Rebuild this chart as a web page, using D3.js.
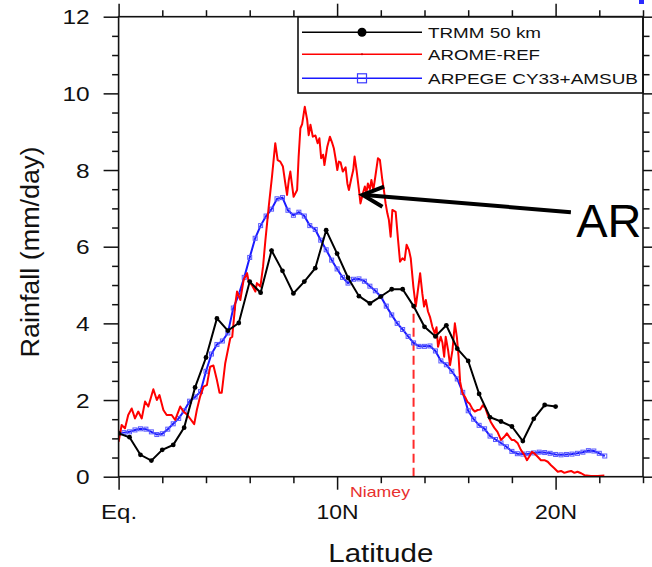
<!DOCTYPE html>
<html><head><meta charset="utf-8">
<script src="https://cdn.jsdelivr.net/npm/d3@7"></script>
<style>body{margin:0;background:#fff}svg{display:block;font-family:"Liberation Sans",Arial,Helvetica,sans-serif}</style>
</head><body><svg id="c" width="652" height="567"></svg>
<script>
// ---------- data ----------
const trmmStep = 0.5;
const trmmVal = [1.13,1.03,0.57,0.42,0.70,0.83,1.28,2.33,3.11,4.13,3.81,4.01,5.09,4.80,5.90,5.37,4.78,5.09,5.44,6.43,5.82,5.19,4.71,4.52,4.70,4.89,4.89,4.45,3.91,3.66,3.95,3.34,3.02,2.16,1.55,1.44,1.31,0.93,1.51,1.87,1.83];

const arpegeStep = 0.25;
const arpegeVal = [1.13,1.15,1.17,1.22,1.25,1.24,1.17,1.10,1.12,1.24,1.38,1.52,1.72,1.97,2.08,2.22,2.75,3.20,3.45,3.54,3.75,4.40,4.75,5.20,5.72,6.22,6.55,6.80,6.98,7.25,7.28,6.95,6.82,6.90,6.80,6.55,6.45,6.17,5.92,5.65,5.42,5.20,5.05,5.15,5.16,5.10,4.97,4.85,4.70,4.45,4.22,4.00,3.84,3.66,3.49,3.40,3.40,3.41,3.28,3.02,2.92,2.75,2.55,2.20,1.72,1.50,1.34,1.25,1.06,0.97,0.88,0.78,0.66,0.60,0.59,0.60,0.62,0.64,0.63,0.61,0.58,0.57,0.58,0.59,0.61,0.64,0.68,0.67,0.61,0.54];

const aromeLat = [0.00,0.14,0.29,0.44,0.60,0.75,0.90,1.06,1.21,1.36,1.59,1.75,1.87,2.05,2.20,2.43,2.59,2.82,2.97,3.15,3.46,3.58,3.73,3.89,4.04,4.19,4.34,4.50,4.62,4.72,4.88,5.11,5.20,5.34,5.42,5.57,5.72,5.88,5.95,6.10,6.26,6.33,6.49,6.61,6.72,6.87,7.02,7.17,7.28,7.40,7.52,7.63,7.71,7.79,7.86,7.94,8.01,8.17,8.24,8.32,8.40,8.52,8.63,8.70,8.78,8.89,9.01,9.11,9.19,9.27,9.36,9.42,9.55,9.67,9.78,9.85,9.93,10.01,10.08,10.16,10.26,10.39,10.47,10.54,10.65,10.74,10.80,10.89,11.00,11.07,11.18,11.27,11.34,11.41,11.50,11.57,11.66,11.76,11.87,11.96,12.07,12.14,12.22,12.30,12.37,12.45,12.53,12.68,12.79,12.88,12.99,13.09,13.18,13.29,13.37,13.49,13.60,13.67,13.80,13.90,13.98,14.06,14.16,14.25,14.36,14.47,14.55,14.62,14.74,14.82,14.90,14.97,15.08,15.17,15.28,15.39,15.48,15.56,15.63,15.74,15.85,15.97,16.07,16.20,16.30,16.43,16.55,16.66,16.78,16.90,17.04,17.19,17.34,17.50,17.65,17.77,17.88,17.99,18.10,18.27,18.41,18.57,18.69,18.79,18.92,19.02,19.18,19.33,19.49,19.64,19.79,19.94,20.10,20.25,20.40,20.56,20.71,20.86,21.00,21.17,21.32,21.62,21.93,22.23];
const aromeVal = [0.91,1.35,1.26,1.61,1.78,1.52,1.70,1.52,1.96,1.83,2.28,2.00,2.13,1.74,1.61,1.61,1.48,1.83,1.70,1.61,1.37,1.74,2.09,2.35,2.39,2.87,2.90,2.52,2.19,2.19,2.96,3.61,3.65,4.50,4.83,4.61,5.13,5.31,5.10,5.00,4.83,5.05,4.96,5.48,6.18,7.04,7.83,8.70,8.26,8.22,8.09,7.65,7.35,7.74,7.96,7.60,7.30,7.48,8.35,9.09,9.20,9.65,9.31,8.91,9.18,8.87,8.90,8.70,8.83,8.31,8.40,8.13,8.61,8.87,8.70,8.57,8.30,8.00,8.22,8.20,7.96,8.07,7.65,7.48,7.78,8.00,8.35,8.00,7.48,7.13,7.39,7.57,7.40,7.65,7.50,7.74,7.48,7.87,8.31,8.26,7.74,7.48,7.13,6.87,6.70,6.26,6.96,6.91,6.18,5.61,5.70,5.65,6.05,5.91,5.70,4.96,4.44,4.74,5.31,4.78,4.44,4.61,4.31,4.17,3.91,3.74,3.90,3.39,3.65,3.50,3.13,3.65,3.30,2.91,3.30,4.00,3.65,3.13,2.48,2.17,2.09,1.95,1.90,1.76,1.70,1.74,1.75,1.86,1.80,1.60,1.42,1.28,1.17,0.96,1.04,1.13,1.04,0.96,0.96,0.87,0.70,0.57,0.43,0.52,0.65,0.61,0.52,0.43,0.43,0.39,0.30,0.22,0.13,0.15,0.10,0.13,0.15,0.10,0.13,0.09,0.04,0.02,0.02,0.03];

const xMajor = [0, 10, 20];
const xLabels = ["Eq.", "10N", "20N"];
const xMinor = [2, 4, 6, 8, 12, 14, 16, 18, 22, 24];
const yMajor = [0, 2, 4, 6, 8, 10, 12];
const yMinor = [0.5,1,1.5,2.5,3,3.5,4.5,5,5.5,6.5,7,7.5,8.5,9,9.5,10.5,11,11.5];
const seriesNames = ["TRMM 50 km", "AROME-REF", "ARPEGE CY33+AMSUB"];
const niameyLat = 13.5;
const arrowFrom = [20.7, 6.9], arrowTo = [11.17, 7.35];
const annotText = "AROME";
const annotPos = [20.94, 6.25];

// ---------- layout ----------
const svg = d3.select("#c");
const x = d3.scaleLinear().domain([0, 24]).range([118.6, 643]);
const y = d3.scaleLinear().domain([0, 12]).range([476.7, 16.7]);
const X0 = x(0), X1 = x(24), Y0 = y(0), Y1 = y(12);

const trmm = trmmVal.map((v, i) => [i * trmmStep, v]);
const arpege = arpegeVal.map((v, i) => [i * arpegeStep, v]);
const arome = aromeLat.map((l, i) => [l, aromeVal[i]]);

svg.append("defs").append("clipPath").attr("id", "plot")
  .append("rect").attr("x", X0).attr("y", Y1).attr("width", X1 - X0).attr("height", Y0 - Y1);

const line = d3.line().x(d => x(d[0])).y(d => y(d[1]));

// axes
function styleAxis(g) {
  g.select(".domain").remove();
  g.selectAll(".tick line").attr("stroke", "#111").attr("stroke-width", 1.5);
}
svg.append("g").attr("transform", `translate(0,${Y0})`)
  .call(d3.axisBottom(x).tickValues(xMajor).tickSize(13).tickSizeOuter(0).tickFormat((d, i) => xLabels[i]))
  .call(styleAxis)
  .call(g => g.selectAll("text").attr("y", 42.3).attr("dy", 0).attr("fill", "#111")
     .attr("font-size", 20).attr("font-family", "Liberation Sans, Arial, sans-serif")
     .attr("textLength", (d, i) => i === 0 ? 36 : 42).attr("lengthAdjust", "spacingAndGlyphs"));
svg.append("g").attr("transform", `translate(0,${Y0})`)
  .call(d3.axisBottom(x).tickValues(xMinor).tickSize(6.5).tickSizeOuter(0).tickFormat(""))
  .call(styleAxis);
svg.append("g").attr("transform", `translate(0,${Y1})`)
  .call(d3.axisTop(x).tickValues(xMajor).tickSize(13).tickSizeOuter(0).tickFormat(""))
  .call(styleAxis);
svg.append("g").attr("transform", `translate(0,${Y1})`)
  .call(d3.axisTop(x).tickValues(xMinor).tickSize(6.5).tickSizeOuter(0).tickFormat(""))
  .call(styleAxis);
svg.append("g").attr("transform", `translate(${X0},0)`)
  .call(d3.axisLeft(y).tickValues(yMajor).tickSize(15).tickPadding(14).tickSizeOuter(0).tickFormat(d3.format("d")))
  .call(styleAxis)
  .call(g => g.selectAll("text").attr("dy", "0.36em").attr("fill", "#111")
     .attr("font-size", 20).attr("font-family", "Liberation Sans, Arial, sans-serif")
     .attr("textLength", d => String(d).length * 13.6).attr("lengthAdjust", "spacingAndGlyphs"));
svg.append("g").attr("transform", `translate(${X0},0)`)
  .call(d3.axisLeft(y).tickValues(yMinor).tickSize(6.5).tickSizeOuter(0).tickFormat(""))
  .call(styleAxis);
svg.append("g").attr("transform", `translate(${X1},0)`)
  .call(d3.axisRight(y).tickValues(yMajor).tickSize(15).tickSizeOuter(0).tickFormat(""))
  .call(styleAxis);
svg.append("g").attr("transform", `translate(${X1},0)`)
  .call(d3.axisRight(y).tickValues(yMinor).tickSize(6.5).tickSizeOuter(0).tickFormat(""))
  .call(styleAxis);

// axis titles
svg.append("text").attr("transform", `translate(39,252) rotate(-90)`)
  .attr("text-anchor", "middle").attr("font-size", 26).attr("fill", "#111")
  .attr("textLength", 211).attr("lengthAdjust", "spacingAndGlyphs")
  .text("Rainfall (mm/day)");
svg.append("text").attr("x", (X0 + X1) / 2).attr("y", 562)
  .attr("text-anchor", "middle").attr("font-size", 26).attr("fill", "#111")
  .attr("textLength", 105).attr("lengthAdjust", "spacingAndGlyphs")
  .text("Latitude");

// data
const plot = svg.append("g").attr("clip-path", "url(#plot)");
plot.append("line")
  .attr("x1", x(niameyLat)).attr("x2", x(niameyLat))
  .attr("y1", y(0)).attr("y2", y(trmmVal[Math.round(niameyLat / trmmStep)]))
  .attr("stroke", "#ff2a2a").attr("stroke-width", 2).attr("stroke-dasharray", "9,5");

plot.append("path").datum(arpege).attr("d", line)
  .attr("fill", "none").attr("stroke", "#1a1aff").attr("stroke-width", 2);
plot.append("g").selectAll("rect").data(arpege).join("rect")
  .attr("x", d => x(d[0]) - 2).attr("y", d => y(d[1]) - 2)
  .attr("width", 4).attr("height", 4)
  .attr("fill", "none").attr("stroke", "#5a5aff").attr("stroke-width", 1);

plot.append("path").datum(arome).attr("d", line)
  .attr("fill", "none").attr("stroke", "#ff0000").attr("stroke-width", 2).attr("stroke-linejoin", "round");

plot.append("path").datum(trmm).attr("d", line)
  .attr("fill", "none").attr("stroke", "#000").attr("stroke-width", 2);
plot.append("g").selectAll("circle").data(trmm).join("circle")
  .attr("cx", d => x(d[0])).attr("cy", d => y(d[1])).attr("r", 2.4).attr("fill", "#000");

// Niamey label
svg.append("text").attr("x", 380).attr("y", 497).attr("text-anchor", "middle")
  .attr("font-size", 15).attr("fill", "#e8302e")
  .attr("textLength", 60).attr("lengthAdjust", "spacingAndGlyphs").text("Niamey");

// annotation arrow + text (clipped to plot)
const ann = svg.append("g").attr("clip-path", "url(#plot)");
const tx = x(arrowTo[0]), ty = y(arrowTo[1]), fx = x(arrowFrom[0]), fy = y(arrowFrom[1]);
ann.append("line").attr("x1", fx).attr("y1", fy).attr("x2", tx + 2).attr("y2", ty)
  .attr("stroke", "#000").attr("stroke-width", 4);
const ang = Math.atan2(fy - ty, fx - tx), hl = 23, ha = 26 * Math.PI / 180;
ann.append("path")
  .attr("d", `M${tx + hl * Math.cos(ang - ha)},${ty + hl * Math.sin(ang - ha)}L${tx},${ty}L${tx + hl * Math.cos(ang + ha)},${ty + hl * Math.sin(ang + ha)}`)
  .attr("fill", "none").attr("stroke", "#000").attr("stroke-width", 4).attr("stroke-linejoin", "miter");
ann.append("text").attr("x", x(annotPos[0])).attr("y", y(annotPos[1]))
  .attr("font-size", 47).attr("fill", "#000").text(annotText);

// legend
const lg = svg.append("g");
lg.append("rect").attr("x", 298).attr("y", Y1).attr("width", X1 - 298).attr("height", 93 - Y1)
  .attr("fill", "#fff").attr("stroke", "#111").attr("stroke-width", 1.6);
const rowsY = [32.3, 54.3, 78.3];
const rowColors = ["#000", "#ff0000", "#1a1aff"];
const rowLen = [113, 112, 210];
seriesNames.forEach((name, i) => {
  lg.append("line").attr("x1", 302).attr("x2", 422).attr("y1", rowsY[i]).attr("y2", rowsY[i])
    .attr("stroke", rowColors[i]).attr("stroke-width", 1.6);
  lg.append("text").attr("x", 428).attr("y", rowsY[i] + 5.2).attr("font-size", 15).attr("fill", "#111")
    .attr("textLength", rowLen[i]).attr("lengthAdjust", "spacingAndGlyphs").text(name);
});
lg.append("circle").attr("cx", 362).attr("cy", rowsY[0]).attr("r", 4.5).attr("fill", "#000");
lg.append("circle").attr("cx", 362).attr("cy", rowsY[1]).attr("r", 1).attr("fill", "#cc0000");
lg.append("rect").attr("x", 357.5).attr("y", rowsY[2] - 4.5).attr("width", 9).attr("height", 9)
  .attr("fill", "none").attr("stroke", "#3a3aff").attr("stroke-width", 1.2);

// frame
svg.append("rect").attr("x", X0).attr("y", Y1).attr("width", X1 - X0).attr("height", Y0 - Y1)
  .attr("fill", "none").attr("stroke", "#111").attr("stroke-width", 1.6);

// small blue mark at the top-right corner of the picture
svg.append("rect").attr("x", 639).attr("y", 0).attr("width", 5).attr("height", 4).attr("fill", "#2a2aff");
</script></body></html>
